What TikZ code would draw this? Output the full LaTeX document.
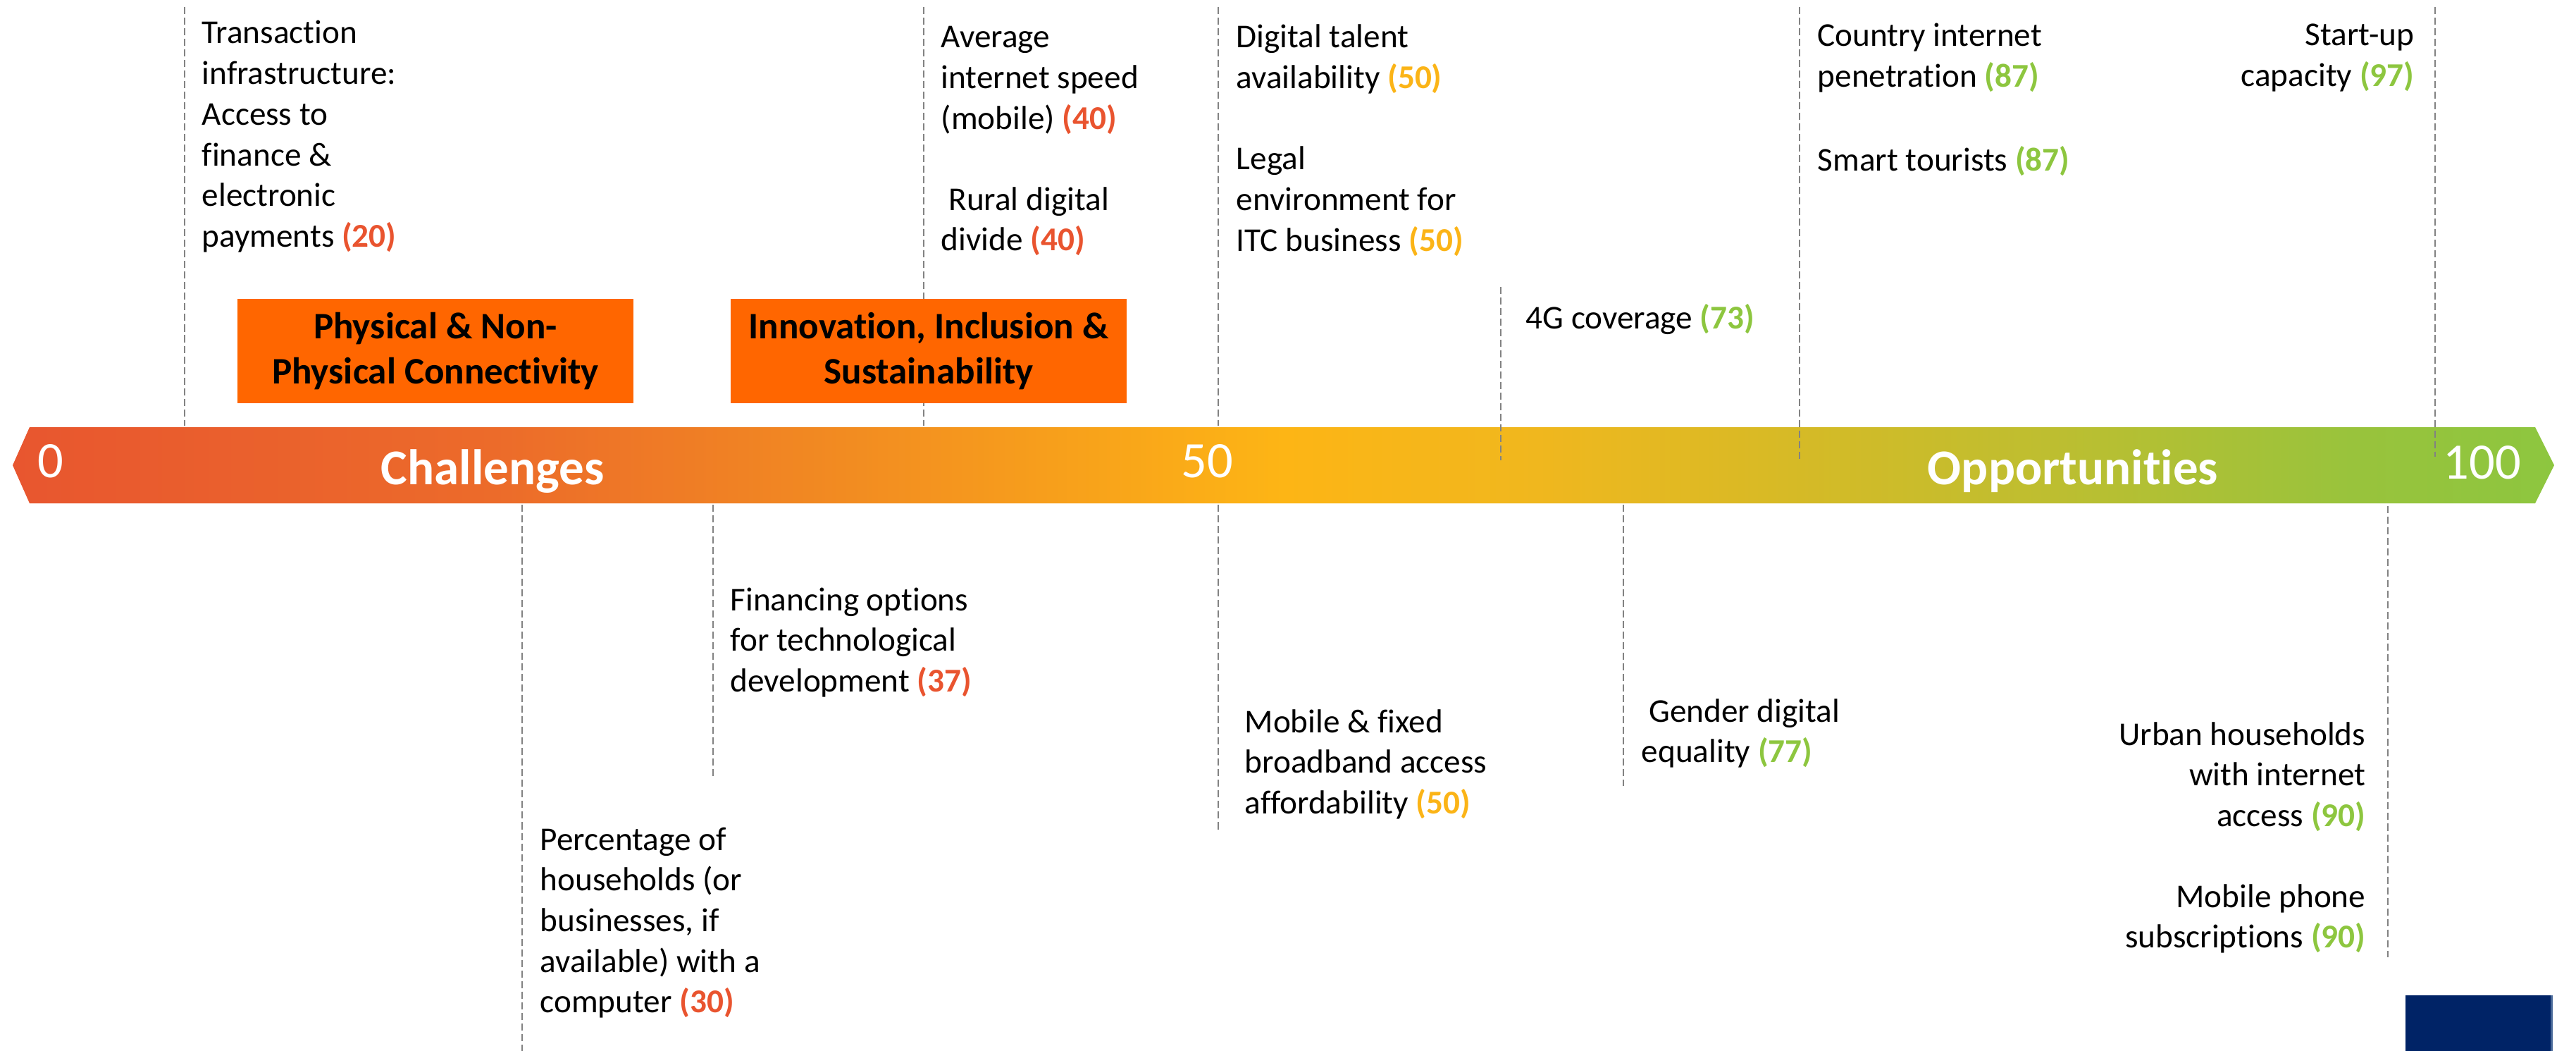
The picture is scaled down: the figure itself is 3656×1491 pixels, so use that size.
\documentclass[tikz,border=0pt]{standalone}
\usepackage{fontspec}
\setmainfont{Carlito}[Ligatures=NoCommon]
\usepackage{xcolor}

% value colours
\definecolor{numred}{RGB}{233,84,47}
\definecolor{numyel}{RGB}{251,180,23}
\definecolor{numgrn}{RGB}{141,198,63}
\definecolor{boxorange}{RGB}{255,102,0}
\definecolor{guidegrey}{RGB}{130,130,130}
\definecolor{navyblk}{RGB}{0,35,102}
\definecolor{navyedge}{RGB}{74,106,154}

% band gradient stops, from red-orange to green
\definecolor{bsA}{RGB}{232,86,47}
\definecolor{bsB}{RGB}{236,107,42}
\definecolor{bsC}{RGB}{242,140,33}
\definecolor{bsD}{RGB}{253,181,21}
\definecolor{bsE}{RGB}{240,183,30}
\definecolor{bsF}{RGB}{214,186,38}
\definecolor{bsG}{RGB}{190,190,48}
\definecolor{bsH}{RGB}{153,195,60}
\definecolor{bsI}{RGB}{141,198,63}
\pgfdeclarehorizontalshading{bandshade}{100bp}{%
  color(0bp)=(bsA); color(25bp)=(bsA); color(34.5bp)=(bsB);
  color(41.5bp)=(bsC); color(50bp)=(bsD); color(55bp)=(bsE);
  color(60bp)=(bsF); color(65bp)=(bsG); color(71bp)=(bsH);
  color(75bp)=(bsI); color(100bp)=(bsI)}

\newcommand{\valred}[1]{\textbf{\textcolor{numred}{(#1)}}}
\newcommand{\valyel}[1]{\textbf{\textcolor{numyel}{(#1)}}}
\newcommand{\valgrn}[1]{\textbf{\textcolor{numgrn}{(#1)}}}
\newcommand{\leftlines}[1]{\begin{tabular}[t]{@{}l@{}}#1\end{tabular}}
\newcommand{\rightlines}[1]{\begin{tabular}[t]{@{}r@{}}#1\end{tabular}}

\tikzset{
  txt/.style={inner sep=0pt, anchor=base west, font=\fontsize{13.43}{16.42}\selectfont},
  txtr/.style={txt, anchor=base east},
  guide/.style={draw=guidegrey, line width=0.6pt, dash pattern=on 2.85pt off 1.42pt},
  catbox/.style={fill=boxorange, inner sep=0pt, align=center,
    minimum width=5.62cm, minimum height=1.48cm,
    font=\bfseries\fontsize{15.1}{18.4}\selectfont},
  bandnum/.style={text=white, inner sep=0pt, anchor=base, font=\fontsize{20.6}{24}\selectfont},
  bandword/.style={bandnum, font=\bfseries\fontsize{20.2}{24}\selectfont}
}

\begin{document}
\begin{tikzpicture}[x=0.01cm, y=-0.01cm]
\useasboundingbox (0,0) rectangle (3656,1491);

% the scale band
\path[shading=bandshade]
  (42,606) -- (3598,606) -- (3625,660) -- (3598,714) -- (42,714) -- (18,660) -- cycle;

\node[bandnum]  (s0)   at (72,677)   {0};
\node[bandword] (chal) at (699,687)  {Challenges};
\node[bandnum]  (s50)  at (1713,677) {50};
\node[bandword] (opp)  at (2942,687) {Opportunities};
\node[bandnum]  (s100) at (3523,679) {100};

% guide lines above the band
\coordinate (a1) at (262,10);   \coordinate (b1) at (262,604);
\coordinate (a2) at (1311,10);  \coordinate (b2) at (1311,604);
\coordinate (a3) at (1729,10);  \coordinate (b3) at (1729,604);
\coordinate (a4) at (2130,407); \coordinate (b4) at (2130,653);
\coordinate (a5) at (2554,10);  \coordinate (b5) at (2554,653);
\coordinate (a6) at (3456,10);  \coordinate (b6) at (3456,648);
\foreach \i in {1,...,6} \draw[guide] (a\i) -- (b\i);

% guide lines below the band
\coordinate (c1) at (741,716);  \coordinate (d1) at (741,1491);
\coordinate (c2) at (1012,716); \coordinate (d2) at (1012,1105);
\coordinate (c3) at (1729,716); \coordinate (d3) at (1729,1177);
\coordinate (c4) at (2304,716); \coordinate (d4) at (2304,1115);
\coordinate (c5) at (3389,718); \coordinate (d5) at (3389,1358);
\foreach \i in {1,...,5} \draw[guide] (c\i) -- (d\i);

% category boxes
\node[catbox] (phys)  at (618,498)  {Physical \& Non-\\Physical Connectivity};
\node[catbox] (innov) at (1318,498) {Innovation, Inclusion \&\\Sustainability};

% indicators above the band
\node[txt] (i20)  at (286,62)   {\leftlines{Transaction\\infrastructure:\\Access to\\finance \&\\electronic\\payments \valred{20}}};
\node[txt] (i40a) at (1335,68)  {\leftlines{Average\\internet speed\\(mobile) \valred{40}}};
\node[txt] (i40b) at (1335,298) {\leftlines{\ Rural digital\\divide \valred{40}}};
\node[txt] (i50a) at (1754,68)  {\leftlines{Digital talent\\availability \valyel{50}}};
\node[txt] (i50b) at (1754,241) {\leftlines{Legal\\environment for\\ITC business \valyel{50}}};
\node[txt] (i73)  at (2165,466) {4G coverage \valgrn{73}};
\node[txt] (i87a) at (2579,66)  {\leftlines{Country internet\\penetration \valgrn{87}}};
\node[txt] (i87b) at (2579,243) {Smart tourists \valgrn{87}};
\node[txtr] (i97) at (3427,65)  {\rightlines{Start-up\\capacity \valgrn{97}}};

% indicators below the band
\node[txt] (i37)  at (1036,866)  {\leftlines{Financing options\\for technological\\development \valred{37}}};
\node[txt] (i30)  at (766,1206)  {\leftlines{Percentage of\\households (or\\businesses, if\\available) with a\\computer \valred{30}}};
\node[txt] (i50c) at (1766,1039) {\leftlines{Mobile \& fixed\\broadband access\\affordability \valyel{50}}};
\node[txt] (i77)  at (2329,1024) {\leftlines{\ Gender digital\\equality \valgrn{77}}};
\node[txtr] (i90a) at (3358,1057) {\rightlines{Urban households\\with internet\\access \valgrn{90}}};
\node[txtr] (i90b) at (3358,1287) {\rightlines{Mobile phone\\subscriptions \valgrn{90}}};

% corner block
\fill[navyblk] (3414,1412) rectangle (3620,1491);
\fill[navyedge] (3620,1412) rectangle (3623,1491);
\end{tikzpicture}
\end{document}
